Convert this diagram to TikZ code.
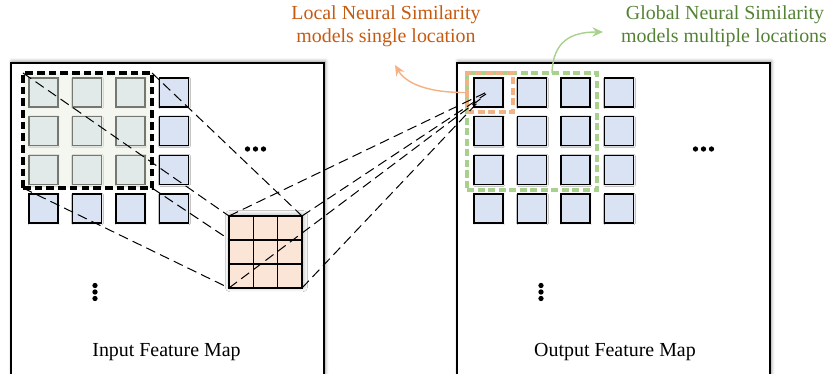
\documentclass[tikz,border=0pt]{standalone}
\usepackage{fontspec}
\setmainfont{Liberation Serif}
\usetikzlibrary{shadows.blur,arrows.meta}
\definecolor{sqfill}{HTML}{DAE3F3}
\definecolor{kfill}{HTML}{FBE5D6}
\definecolor{hlfill}{HTML}{EBF1E1}
\definecolor{obox}{HTML}{F4B183}
\definecolor{gbox}{HTML}{A9D18E}
\definecolor{otext}{HTML}{C55A11}
\definecolor{gtext}{HTML}{548235}
\tikzset{
  panel/.style={draw=black, line width=1.3pt, fill=white, blur shadow={shadow xshift=1.2pt, shadow yshift=1.2pt, shadow blur radius=3pt, shadow opacity=45}},
  sq/.style={draw=black, line width=1.2pt, fill=sqfill, minimum width=29*0.03cm, minimum height=29*0.03cm, inner sep=0pt, outer sep=0pt, blur shadow={shadow xshift=0.4pt, shadow yshift=-0.4pt, shadow blur radius=1.2pt, shadow opacity=25}},
  hlbox/.style={draw=black, line width=2.6pt, dash pattern=on 6.5pt off 3.5pt, fill=hlfill, fill opacity=0.5, draw opacity=1, inner sep=0pt, outer sep=0pt},
  kbox/.style={draw=black, line width=1.3pt, fill=kfill, inner sep=0pt, outer sep=0pt, blur shadow={shadow xshift=0.8pt, shadow yshift=0.8pt, shadow blur radius=4pt, shadow opacity=35, shadow blur steps=12}},
  conn/.style={black, line width=0.85pt, dash pattern=on 8.5pt off 4.5pt},
  selbox/.style={line width=3pt, dash pattern=on 6pt off 3pt, inner sep=0pt, outer sep=0pt},
  lbl/.style={font=\fontsize{17}{19.6}\selectfont, inner sep=0pt, anchor=base},
  dot/.style={circle, fill=black, inner sep=0pt, minimum size=4.5pt},
  curv/.style={line width=1.2pt, -{Stealth[length=9pt, width=8pt]}},
}
\begin{document}
\begin{tikzpicture}[x=0.03cm, y=-0.03cm]
\useasboundingbox (0,0) rectangle (832,374);
% panels
\node[panel, minimum width=313*0.03cm, minimum height=320*0.03cm, inner sep=0pt, anchor=north west] (pin) at (10,62) {};
\node[panel, minimum width=313*0.03cm, minimum height=320*0.03cm, inner sep=0pt, anchor=north west] (pout) at (456,62) {};
% squares
\foreach \r/\y in {1/92.5,2/131.2,3/169.9,4/208.6}{
  \foreach \c/\x in {1/43.5,2/87,3/130.5,4/174}{
    \node[sq] (i\r\c) at (\x,\y) {};
    \node[sq] (o\r\c) at (\x+445,\y) {};
  }
}
% highlight box
\node[hlbox, minimum width=129*0.03cm, minimum height=115*0.03cm] (hl) at (87.5,130.5) {};
% ellipses
\node[dot] (ih1) at (247.5,149) {};
\node[dot] (ih2) at (255.5,149) {};
\node[dot] (ih3) at (263.5,149) {};
\node[dot] (iv1) at (95,285.5) {};
\node[dot] (iv2) at (95,292) {};
\node[dot] (iv3) at (95,298.5) {};
\node[dot] (oh1) at (695.5,149) {};
\node[dot] (oh2) at (703.5,149) {};
\node[dot] (oh3) at (711.5,149) {};
\node[dot] (ov1) at (541,285.5) {};
\node[dot] (ov2) at (541,292) {};
\node[dot] (ov3) at (541,298.5) {};
% connectors from highlight box to kernel
\coordinate (kTL) at (229,216);
\coordinate (kTR) at (302,216);
\coordinate (kBL) at (229,288);
\coordinate (kBR) at (302,288);
\draw[conn] (hl.north west) -- (kTL);
\draw[conn] (hl.north east) -- (kTR);
\draw[conn] (hl.south west) -- (kBL);
\draw[conn] (hl.south east) -- (kBR);
% kernel
\node[kbox, minimum width=73*0.03cm, minimum height=72*0.03cm] (kern) at (265.5,252) {};
\draw[line width=1.3pt] (kern.north west) ++(24.33,0) -- ++(0,72);
\draw[line width=1.3pt] (kern.north west) ++(48.67,0) -- ++(0,72);
\draw[line width=1.3pt] (kern.north west) ++(0,24) -- ++(73,0);
\draw[line width=1.3pt] (kern.north west) ++(0,48) -- ++(73,0);
\draw[line width=1.3pt] (kern.north west) rectangle (kern.south east);
% selection boxes
\node[selbox, draw=gbox, minimum width=130*0.03cm, minimum height=117*0.03cm, anchor=north west] (gsel) at (467,73) {};
\node[selbox, draw=obox, minimum width=46*0.03cm, minimum height=39*0.03cm, anchor=north west] (osel) at (467,73) {};
% connectors from kernel to output
\coordinate (e1) at (489,91);
\coordinate (e2) at (486,94);
\coordinate (e3) at (483,97);
\coordinate (e4) at (480,100);
\draw[conn] (kern.north west) -- (e1);
\draw[conn] (kern.north east) -- (e2);
\draw[conn] (kern.south west) -- (e3);
\draw[conn] (kern.south east) -- (e4);
% labels
\node[lbl, text=otext] (loc1) at (386,20) {Local Neural Similarity};
\node[lbl, text=otext] (loc2) at (386,43) {models single location};
\node[lbl, text=gtext] (glo1) at (725,20) {Global Neural Similarity};
\node[lbl, text=gtext] (glo2) at (724,43) {models multiple locations};
\node[lbl] (tin) at (166.5,357) {Input Feature Map};
\node[lbl] (tout) at (615,357) {Output Feature Map};
% curved arrows
\coordinate (oa) at (395,65);
\coordinate (ga) at (603,32);
\draw[curv, obox] (osel.west) .. controls (425,93) and (405,82) .. (oa);
\draw[curv, gbox] ([xshift=85*0.03cm]gsel.north west) .. controls (553,42) and (570,32) .. (ga);
\end{tikzpicture}
\end{document}
